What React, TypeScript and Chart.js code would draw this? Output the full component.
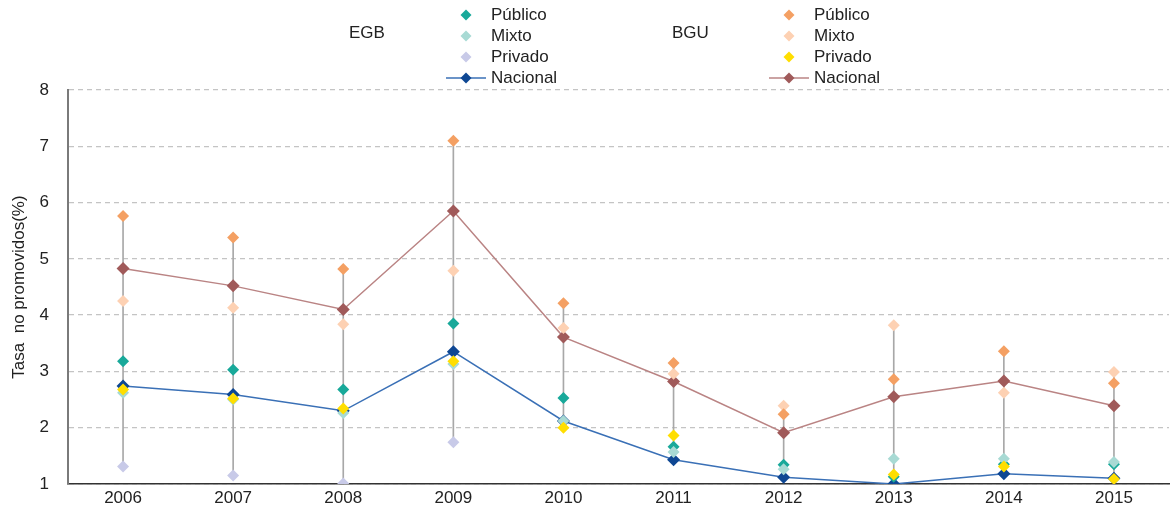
import React, { useEffect, useRef } from 'react';
import { Chart, registerables } from 'chart.js';

Chart.register(...registerables);

const years = ['2006', '2007', '2008', '2009', '2010', '2011', '2012', '2013', '2014', '2015'];
const egbPublico = [3.18, 3.03, 2.68, 3.85, 2.53, 1.66, 1.34, 1.13, 1.35, 1.35];
const egbMixto = [2.62, 2.5, 2.26, 3.13, 2.12, 1.57, 1.26, 1.45, 1.45, 1.39];
const egbPrivado: (number | null)[] = [1.31, 1.15, 1.01, 1.74, null, null, null, null, null, null];
const egbNacional = [2.74, 2.59, 2.3, 3.35, 2.12, 1.43, 1.12, 1.0, 1.18, 1.1];
const bguPublico = [5.76, 5.38, 4.82, 7.1, 4.21, 3.15, 2.24, 2.86, 3.36, 2.79];
const bguMixto = [4.25, 4.13, 3.84, 4.79, 3.77, 2.96, 2.39, 3.82, 2.62, 2.99];
const bguPrivado: (number | null)[] = [2.68, 2.52, 2.34, 3.18, 2.0, 1.86, null, 1.17, 1.31, 1.09];
const bguNacional = [4.83, 4.52, 4.1, 5.85, 3.61, 2.82, 1.91, 2.55, 2.83, 2.39];
const yTicks = [1, 2, 3, 4, 5, 6, 7, 8];

const FONT = '"Liberation Sans", Arial, Helvetica, sans-serif';
const C = {
  egbPub: '#19a99a',
  egbMix: '#a8dad4',
  egbPriv: '#c8cae8',
  egbNacPt: '#0e4793',
  egbNacLn: '#3a70b6',
  bguPub: '#f4a063',
  bguMix: '#fdd1b3',
  bguPriv: '#ffde00',
  bguNacPt: '#a05a5a',
  bguNacLn: '#ba8484',
  range: '#a8a8a8',
};

const allSeries = [egbPublico, egbMixto, egbPrivado, egbNacional, bguPublico, bguMixto, bguPrivado, bguNacional];
const ranges = years.map((_, i) => {
  const vals = allSeries.map((s) => s[i]).filter((v) => v !== null && v !== undefined) as number[];
  return [Math.min(...vals), Math.max(...vals)];
});

function scatterSet(label: string, data: (number | null)[], color: string, order: number, r = 6) {
  return {
    type: 'line' as const,
    label,
    data,
    showLine: false,
    pointStyle: 'rectRot',
    pointRadius: r,
    pointHoverRadius: r,
    pointBackgroundColor: color,
    pointBorderColor: color,
    pointBorderWidth: 0,
    borderColor: color,
    backgroundColor: color,
    order,
  };
}

function lineSet(label: string, data: number[], lineColor: string, ptColor: string, order: number) {
  return {
    type: 'line' as const,
    label,
    data,
    borderColor: lineColor,
    borderWidth: 1.5,
    pointStyle: 'rectRot',
    pointRadius: 6.5,
    pointHoverRadius: 6.5,
    pointBackgroundColor: ptColor,
    pointBorderColor: ptColor,
    pointBorderWidth: 0,
    tension: 0,
    fill: false,
    order,
  };
}

function Diamond({ color, line }: { color: string; line?: string }) {
  return (
    <svg width={40} height={14} style={{ display: 'block' }}>
      {line && <line x1={0} y1={7} x2={40} y2={7} stroke={line} strokeWidth={1.5} />}
      <polygon points="20,1.5 25.5,7 20,12.5 14.5,7" fill={color} />
    </svg>
  );
}

function LegendGroup({ title, left, items }: { title: string; left: number; items: { label: string; color: string; line?: string }[] }) {
  const ys = [15, 36, 57, 78];
  return (
    <>
      <div style={{ position: 'absolute', left, top: 33 - 10, fontFamily: FONT, fontSize: 17, lineHeight: '20px', color: '#222' }}>{title}</div>
      {items.map((it, i) => (
        <React.Fragment key={it.label}>
          <div style={{ position: 'absolute', left: left + 97, top: ys[i] - 7 }}>
            <Diamond color={it.color} line={it.line} />
          </div>
          <div style={{ position: 'absolute', left: left + 142, top: ys[i] - 10, fontFamily: FONT, fontSize: 17, lineHeight: '20px', color: '#222', whiteSpace: 'nowrap' }}>
            {it.label}
          </div>
        </React.Fragment>
      ))}
    </>
  );
}

export default function App() {
  const ref = useRef<HTMLCanvasElement | null>(null);

  useEffect(() => {
    if (!ref.current) return;
    const chart = new Chart(ref.current, {
      type: 'line',
      data: {
        labels: years,
        datasets: [
          {
            type: 'bar' as const,
            label: 'range',
            data: ranges as any,
            backgroundColor: C.range,
            borderWidth: 0,
            barThickness: 1,
            order: 20,
          } as any,
          lineSet('Nacional BGU', bguNacional, C.bguNacLn, C.bguNacPt, 12),
          lineSet('Nacional EGB', egbNacional, C.egbNacLn, C.egbNacPt, 11),
          scatterSet('Privado EGB', egbPrivado, C.egbPriv, 10),
          scatterSet('Público EGB', egbPublico, C.egbPub, 9),
          scatterSet('Mixto EGB', egbMixto, C.egbMix, 8),
          scatterSet('Mixto BGU', bguMixto, C.bguMix, 7),
          scatterSet('Público BGU', bguPublico, C.bguPub, 6),
          scatterSet('Privado BGU', bguPrivado, C.bguPriv, 5),
        ] as any,
      },
      options: {
        animation: false,
        responsive: false,
        maintainAspectRatio: false,
        layout: { autoPadding: false, padding: { top: 90, right: 1, left: 0, bottom: 0 } },
        plugins: {
          legend: { display: false },
          tooltip: { enabled: false },
          title: { display: false },
        },
        scales: {
          x: {
            type: 'category',
            offset: true,
            grid: { display: false, drawTicks: false },
            border: { display: true, color: '#333', width: 1.5 },
            ticks: { font: { family: FONT, size: 17 }, color: '#222', padding: 4, maxRotation: 0, autoSkip: false },
            afterFit: (s: any) => {
              s.height = 28;
              s.paddingLeft = 0;
              s.paddingRight = 0;
            },
          },
          y: {
            min: 1,
            max: 8,
            afterBuildTicks: (s: any) => {
              s.ticks = yTicks.map((v) => ({ value: v }));
            },
            ticks: { font: { family: FONT, size: 17 }, color: '#222', padding: 19 },
            grid: { color: '#c4c4c4', lineWidth: 1.3, drawTicks: false },
            border: { display: true, color: '#7a7a7a', width: 2, dash: [5, 4] },
            title: {
              display: true,
              text: 'Tasa  no promovidos(%)',
              font: { family: FONT, size: 17 },
              color: '#222',
              padding: { top: 9, bottom: 0 },
            },
            afterFit: (s: any) => {
              s.width = 68;
              s.paddingTop = 0;
              s.paddingBottom = 0;
            },
          },
        },
      } as any,
    });
    return () => chart.destroy();
  }, []);

  return (
    <div style={{ position: 'fixed', left: 0, top: 0, width: 1170, height: 512, background: '#fff' }}>
      <canvas ref={ref} width={1170} height={512} style={{ position: 'absolute', left: 0, top: 0, width: 1170, height: 512 }} />
      <LegendGroup
        title="EGB"
        left={349}
        items={[
          { label: 'Público', color: C.egbPub },
          { label: 'Mixto', color: C.egbMix },
          { label: 'Privado', color: C.egbPriv },
          { label: 'Nacional', color: C.egbNacPt, line: C.egbNacLn },
        ]}
      />
      <LegendGroup
        title="BGU"
        left={672}
        items={[
          { label: 'Público', color: C.bguPub },
          { label: 'Mixto', color: C.bguMix },
          { label: 'Privado', color: C.bguPriv },
          { label: 'Nacional', color: C.bguNacPt, line: C.bguNacLn },
        ]}
      />
    </div>
  );
}
